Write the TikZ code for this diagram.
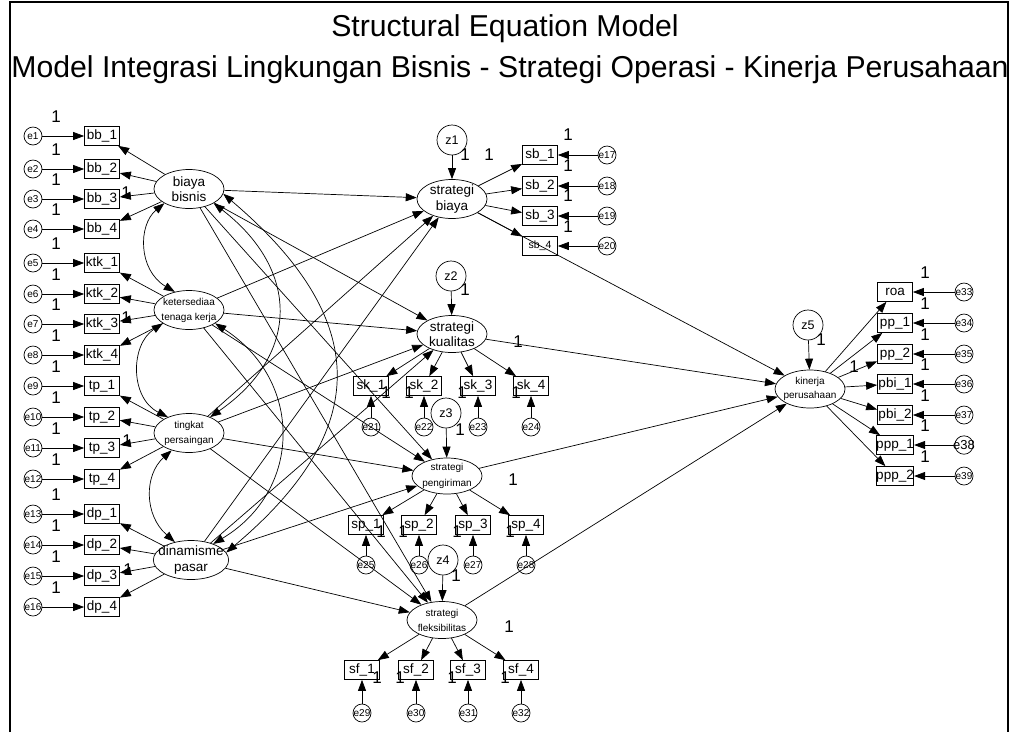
\documentclass[tikz,border=0pt]{standalone}
\usepackage{fontspec}
\setmainfont{Liberation Sans}
\usetikzlibrary{arrows.meta,shapes.geometric}
\begin{document}
\begin{tikzpicture}[x=1pt,y=-1pt,
  lat/.style={draw, ellipse, minimum width=70pt, minimum height=39pt, inner xsep=-6pt, inner ysep=-3pt, align=center, line width=0.7pt},
  fa/.style={font=\fontsize{13.5}{15.5}\selectfont},
  fb/.style={font=\fontsize{10}{15}\selectfont},
  obs/.style={draw, rectangle, minimum width=35pt, minimum height=19pt, inner sep=0pt, line width=0.7pt, font=\fontsize{13.5}{13.5}\selectfont},
  err/.style={draw, circle, minimum size=18pt, inner sep=-2pt, line width=0.7pt, font=\fontsize{10}{10}\selectfont},
  dist/.style={draw, circle, minimum size=30pt, inner sep=0pt, line width=0.7pt, font=\fontsize{12.5}{12.5}\selectfont},
  one/.style={font=\fontsize{17}{17}\selectfont, inner sep=0pt},
  arr/.style={-{Triangle[length=11pt,width=8pt]}, line width=0.7pt},
  cov/.style={{Triangle[length=11pt,width=8pt]}-{Triangle[length=11pt,width=8pt]}, line width=0.7pt},
  titlef/.style={font=\fontsize{30.2}{32}\selectfont, inner sep=0pt}
]
\useasboundingbox (0,0) rectangle (1011,732);
\draw[line width=2.5pt] (10,732) -- (10,2) -- (1008,2) -- (1008,732);
\node[titlef] (t1) at (505,29) {Structural Equation Model};
\node[titlef] (t2) at (510,70) {Model Integrasi Lingkungan Bisnis - Strategi Operasi - Kinerja Perusahaan};

% exogenous latents
\node[lat,fa] (BB) at (189,189) {biaya\\bisnis};
\node[lat,fb] (KTK) at (189,310) {ketersediaa\\tenaga kerja};
\node[lat,fb] (TP) at (189,433) {tingkat\\persaingan};
\node[lat,fa] (DP) at (191,560) {dinamisme\\pasar};

% left indicators
\foreach \n/\t/\y in {1/bb\_1/136,2/bb\_2/169,3/bb\_3/199,4/bb\_4/229,5/ktk\_1/263,6/ktk\_2/294,7/ktk\_3/324,8/ktk\_4/355,9/tp\_1/386,10/tp\_2/417,11/tp\_3/448,12/tp\_4/479,13/dp\_1/514,14/dp\_2/545,15/dp\_3/576,16/dp\_4/607}{
  \node[err] (e\n) at (33,\y) {e\n};
  \node[obs] (m\n) at (102,\y) {\t};
  \draw[arr] (e\n) -- (m\n);
  \node[one] (o\n) at (56,\y-19) {1};
}
\foreach \n in {1,2,3,4}{\draw[arr] (BB) -- (m\n);}
\foreach \n in {5,6,7,8}{\draw[arr] (KTK) -- (m\n);}
\foreach \n in {9,10,11,12}{\draw[arr] (TP) -- (m\n);}
\foreach \n in {13,14,15,16}{\draw[arr] (DP) -- (m\n);}
\node[one] (l3) at (126,193) {1};
\node[one] (l7) at (126,318) {1};
\node[one] (l11) at (127,441) {1};
\node[one] (l15) at (128,570) {1};

% covariances
\draw[cov] (BB.-150) .. controls (138,225) and (138,270) .. (KTK.128);
\draw[cov] (KTK.-153) .. controls (130,345) and (130,398) .. (TP.143);
\draw[cov] (TP.-135) .. controls (144,475) and (144,515) .. (DP.132);
\draw[cov] (BB.-30) .. controls (300,270) and (300,355) .. (TP.37);
\draw[cov] (BB.-8) .. controls (372,320) and (372,430) .. (DP.12);
\draw[cov] (KTK.-27) .. controls (303,380) and (303,490) .. (DP.36);

% strategies
\node[lat,fa] (SB) at (452,199) {strategi\\biaya};
\node[lat,fa,minimum height=37pt] (SK) at (452,334) {strategi\\kualitas};
\node[lat,minimum height=36pt,font=\fontsize{10}{16}\selectfont] (SP) at (447,476) {strategi\\pengiriman};
\node[lat,fb,minimum height=37pt] (SF) at (442,620) {strategi\\fleksibilitas};
\node[lat,minimum height=38pt,font=\fontsize{10}{14}\selectfont] (KP) at (810,389) {kinerja\\perusahaan};

\node[dist] (z1) at (452,140) {z1};
\node[dist] (z2) at (451,276) {z2};
\node[dist] (z3) at (446,413) {z3};
\node[dist] (z4) at (443,560) {z4};
\node[dist] (z5) at (808,325) {z5};
\draw[arr] (z1) -- (SB);
\draw[arr] (z2) -- (SK);
\draw[arr] (z3) -- (SP);
\draw[arr] (z4) -- (SF);
\draw[arr] (z5) -- (KP);
\node[one] (oz1) at (465,155) {1};
\node[one] (oz2) at (465,290) {1};
\node[one] (oz3) at (460,430) {1};
\node[one] (oz4) at (456,576) {1};
\node[one] (oz5) at (821,340) {1};

% structural paths
\foreach \a in {BB,KTK,TP,DP}{
  \foreach \b in {SB,SK,SP,SF}{\draw[arr] (\a) -- (\b);}
}
\foreach \b in {SB,SK,SP,SF}{\draw[arr] (\b) -- (KP);}

% strategi biaya indicators
\foreach \n/\t/\y in {17/sb\_1/155,18/sb\_2/186,19/sb\_3/216}{
  \node[obs] (m\n) at (540,\y) {\t};
  \node[err] (e\n) at (607,\y) {e\n};
  \draw[arr] (e\n) -- (m\n);
  \draw[arr] (SB) -- (m\n);
  \node[one] (o\n) at (568,\y-20) {1};
}
\node[obs,font=\fontsize{10.5}{10.5}\selectfont] (m20) at (540,246) {sb\_4};
\node[err] (e20) at (607,246) {e20};
\draw[arr] (e20) -- (m20);
\draw[arr] (SB) -- (m20);
\node[one] (o20) at (568,227) {1};
\node[one] (l17) at (489,155) {1};

% strategi kualitas indicators
\foreach \n/\t/\x in {21/sk\_1/371,22/sk\_2/424,23/sk\_3/478,24/sk\_4/531}{
  \node[obs] (m\n) at (\x,386) {\t};
  \node[err] (e\n) at (\x,427) {e\n};
  \draw[arr] (e\n) -- (m\n);
  \draw[arr] (SK) -- (m\n);
}
\node[one] (o21) at (386,393) {1};
\node[one] (o22) at (409,393) {1};
\node[one] (o23) at (462,393) {1};
\node[one] (o24) at (516,393) {1};
\node[one] (l24) at (518,342) {1};

% strategi pengiriman indicators
\foreach \n/\t/\x in {25/sp\_1/366,26/sp\_2/419,27/sp\_3/473,28/sp\_4/526}{
  \node[obs] (m\n) at (\x,525) {\t};
  \node[err] (e\n) at (\x,565) {e\n};
  \draw[arr] (e\n) -- (m\n);
  \draw[arr] (SP) -- (m\n);
}
\node[one] (o25) at (381,532) {1};
\node[one] (o26) at (403,532) {1};
\node[one] (o27) at (457,532) {1};
\node[one] (o28) at (510,532) {1};
\node[one] (l28) at (513,480) {1};

% strategi fleksibilitas indicators
\foreach \n/\t/\x in {29/sf\_1/362,30/sf\_2/416,31/sf\_3/468,32/sf\_4/521}{
  \node[obs] (m\n) at (\x,670) {\t};
  \node[err] (e\n) at (\x,713) {e\n};
  \draw[arr] (e\n) -- (m\n);
  \draw[arr] (SF) -- (m\n);
}
\node[one] (o29) at (377,678) {1};
\node[one] (o30) at (400,678) {1};
\node[one] (o31) at (452,678) {1};
\node[one] (o32) at (505,678) {1};
\node[one] (l32) at (509,627) {1};

% kinerja indicators
\foreach \n/\t/\y in {33/roa/292,34/pp\_1/323,35/pp\_2/354,36/pbi\_1/384,37/pbi\_2/415,39/ppp\_2/476}{
  \node[obs] (m\n) at (895,\y) {\t};
  \node[err] (e\n) at (964,\y) {e\n};
  \draw[arr] (e\n) -- (m\n);
  \draw[arr] (KP) -- (m\n);
  \node[one] (o\n) at (925,\y-19) {1};
}
\node[obs] (m38) at (895,445) {ppp\_1};
\node[err,font=\fontsize{13}{13}\selectfont] (e38) at (964,445) {e38};
\draw[arr] (e38) -- (m38);
\draw[arr] (KP) -- (m38);
\node[one] (o38) at (925,426) {1};
\node[one] (l35) at (854,367) {1};
\end{tikzpicture}
\end{document}
